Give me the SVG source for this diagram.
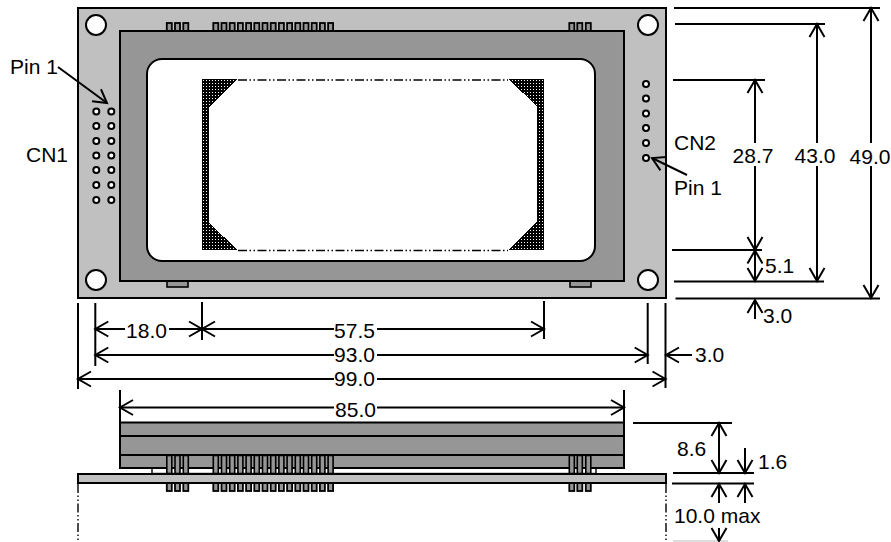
<svg xmlns="http://www.w3.org/2000/svg" width="891" height="542" viewBox="0 0 891 542">
<style>
.o{stroke:#000;stroke-width:2}
.board{fill:#c0c0c0}
.panel{fill:#969696}
.w{fill:#fff}
.l{stroke:#000;stroke-width:2;fill:none}
.a{stroke:#000;stroke-width:2;fill:none;marker-end:url(#ah)}
.h{fill:#fff;stroke:#000;stroke-width:2}
.dd{stroke:#000;stroke-width:1.4;fill:none;stroke-dasharray:9 2.5 1.5 2.5 1.5 2.5}
text{font-family:"Liberation Sans",Arial,sans-serif;font-size:21px;fill:#000}
</style>
<defs>
<marker id="ah" viewBox="-15 -9 18 18" markerWidth="18" markerHeight="18" refX="0" refY="0" orient="auto" markerUnits="userSpaceOnUse"><path d="M-13,-7.500 L0,0 L-13,7.500" fill="none" stroke="#000" stroke-width="2"/></marker>
<pattern id="dots" width="3" height="3" patternUnits="userSpaceOnUse" x="202" y="79"><rect width="3" height="3" fill="#000"/><rect x="1" y="1" width="1" height="1" fill="#fff"/></pattern>
<rect id="tp" width="5" height="8" fill="#969696" stroke="#000" stroke-width="1.8"/>
<rect id="sp" width="5" height="18" fill="#969696" stroke="#000" stroke-width="1.6"/>
<circle id="hole" r="3" class="h"/>
</defs>

<g id="front-board">
<rect x="78" y="8" width="588" height="290" class="board o"/>
<circle cx="96" cy="25" r="10" class="w o"/><circle cx="648" cy="25" r="10" class="w o"/>
<circle cx="96" cy="280" r="10" class="w o"/><circle cx="648" cy="280" r="10" class="w o"/>
</g>
<g id="top-pins">
<use href="#tp" x="166.800" y="23"/><use href="#tp" x="175" y="23"/><use href="#tp" x="183.300" y="23"/>
<use href="#tp" x="213.300" y="23"/><use href="#tp" x="221.500" y="23"/><use href="#tp" x="229.700" y="23"/><use href="#tp" x="237.900" y="23"/><use href="#tp" x="246.100" y="23"/><use href="#tp" x="254.300" y="23"/><use href="#tp" x="262.500" y="23"/><use href="#tp" x="270.700" y="23"/><use href="#tp" x="278.900" y="23"/><use href="#tp" x="287.100" y="23"/><use href="#tp" x="295.300" y="23"/><use href="#tp" x="303.500" y="23"/><use href="#tp" x="311.700" y="23"/><use href="#tp" x="319.900" y="23"/><use href="#tp" x="328.100" y="23"/>
<use href="#tp" x="569.300" y="23"/><use href="#tp" x="577.300" y="23"/><use href="#tp" x="585.800" y="23"/>
</g>
<g id="front-panel">
<rect x="167" y="281" width="21" height="6" class="panel" stroke="#000" stroke-width="1.6"/>
<rect x="570" y="281" width="21" height="6" class="panel" stroke="#000" stroke-width="1.6"/>
<rect x="120" y="31" width="504" height="250" class="panel o"/>
<rect x="147" y="59" width="448" height="202" rx="15" class="w o"/>
</g>
<g id="dot-matrix">
<path d="M202,79 L238,79 L209,107 L209,223 L238,250 L202,250Z" fill="url(#dots)" shape-rendering="crispEdges"/>
<path d="M544,79 L508,79 L537,106 L537,222 L508,250 L544,250Z" fill="url(#dots)" shape-rendering="crispEdges"/>
<path d="M238,80 H508 M238,250.500 H508" class="dd"/>
</g>
<g id="cn1">
<use href="#hole" x="96.300" y="111.500"/><use href="#hole" x="111.300" y="111.500"/>
<use href="#hole" x="96.300" y="126"/><use href="#hole" x="111.300" y="126"/>
<use href="#hole" x="96.300" y="141"/><use href="#hole" x="111.300" y="141"/>
<use href="#hole" x="96.300" y="155.500"/><use href="#hole" x="111.300" y="155.500"/>
<use href="#hole" x="96.300" y="170"/><use href="#hole" x="111.300" y="170"/>
<use href="#hole" x="96.300" y="185"/><use href="#hole" x="111.300" y="185"/>
<use href="#hole" x="96.300" y="200"/><use href="#hole" x="111.300" y="200"/>
<text x="26" y="162">CN1</text>
</g>
<g id="cn2">
<use href="#hole" x="646" y="84"/><use href="#hole" x="646" y="98.500"/><use href="#hole" x="646" y="113.500"/><use href="#hole" x="646" y="128"/><use href="#hole" x="646" y="143"/><use href="#hole" x="646" y="158"/>
<text x="674" y="150">CN2</text>
</g>
<g id="side-view">
<rect x="152" y="467.500" width="444" height="6" class="w" stroke="#000" stroke-width="1.4"/>
<rect x="120" y="422.500" width="504" height="45.500" class="panel o"/>
<path d="M120,436 H624 M120,455 H624" class="o"/>
<g>
<use href="#sp" x="166.800" y="455.500"/><use href="#sp" x="175" y="455.500"/><use href="#sp" x="183.300" y="455.500"/>
<use href="#sp" x="213.300" y="455.500"/><use href="#sp" x="221.500" y="455.500"/><use href="#sp" x="229.700" y="455.500"/><use href="#sp" x="237.900" y="455.500"/><use href="#sp" x="246.100" y="455.500"/><use href="#sp" x="254.300" y="455.500"/><use href="#sp" x="262.500" y="455.500"/><use href="#sp" x="270.700" y="455.500"/><use href="#sp" x="278.900" y="455.500"/><use href="#sp" x="287.100" y="455.500"/><use href="#sp" x="295.300" y="455.500"/><use href="#sp" x="303.500" y="455.500"/><use href="#sp" x="311.700" y="455.500"/><use href="#sp" x="319.900" y="455.500"/><use href="#sp" x="328.100" y="455.500"/>
<use href="#sp" x="569.300" y="455.500"/><use href="#sp" x="577.300" y="455.500"/><use href="#sp" x="585.800" y="455.500"/>
</g>
<g>
<use href="#tp" x="166.800" y="483"/><use href="#tp" x="175" y="483"/><use href="#tp" x="183.300" y="483"/>
<use href="#tp" x="213.300" y="483"/><use href="#tp" x="221.500" y="483"/><use href="#tp" x="229.700" y="483"/><use href="#tp" x="237.900" y="483"/><use href="#tp" x="246.100" y="483"/><use href="#tp" x="254.300" y="483"/><use href="#tp" x="262.500" y="483"/><use href="#tp" x="270.700" y="483"/><use href="#tp" x="278.900" y="483"/><use href="#tp" x="287.100" y="483"/><use href="#tp" x="295.300" y="483"/><use href="#tp" x="303.500" y="483"/><use href="#tp" x="311.700" y="483"/><use href="#tp" x="319.900" y="483"/><use href="#tp" x="328.100" y="483"/>
<use href="#tp" x="569.300" y="483"/><use href="#tp" x="577.300" y="483"/><use href="#tp" x="585.800" y="483"/>
</g>
<rect x="78" y="474" width="588" height="9" class="board o"/>
<path d="M78,484 V542 M666,484 V542" class="dd"/>
</g>
<g id="connectors">
<path d="M58,67 L107,103" class="a"/>
<path d="M687,175 L652,158" class="a"/>
<path d="M674,8 H880 M675,24 H825 M673,80 H765 M672,250 H762 M674,281.500 H824 M675.500,298.500 H880" class="l"/>
<path d="M871,143 V8" class="a"/><path d="M871,166 V298" class="a"/>
<path d="M817,143 V24" class="a"/><path d="M817,166 V281" class="a"/>
<path d="M755,143 V80" class="a"/><path d="M755,166 V250" class="a"/>
<path d="M755,281 V250.500" class="a"/><path d="M755,250.500 V281" class="a"/>
<path d="M755,319 V300" class="a"/>
<path d="M78,303 V389 M95.300,303 V366 M202,302 V340 M544,301 V339 M647.700,303 V364 M665.500,303 V388" class="l"/>
<path d="M125,329 H95.300" class="a"/><path d="M169,329 H202" class="a"/>
<path d="M334,329 H202" class="a"/><path d="M377,329 H544" class="a"/>
<path d="M334,355 H95.300" class="a"/><path d="M377,355 H647.700" class="a"/>
<path d="M334,379 H78" class="a"/><path d="M377,379 H665.500" class="a"/>
<path d="M692,355 H666" class="a"/>
<path d="M120,390 V422 M624,390 V422" class="l"/>
<path d="M334,407.500 H120" class="a"/><path d="M377,407.500 H624" class="a"/>
<path d="M633,423 H732 M673,473 H754 M672,483.500 H754" class="l"/>
<path d="M673,541 H728" stroke="#bbb" stroke-width="1.2" fill="none"/>
<path d="M719,474 V423" class="a"/><path d="M719,423 V473" class="a"/>
<path d="M745,448 V473" class="a"/>
<path d="M745,503 V484" class="a"/><path d="M719,503 V484" class="a"/>
<path d="M719,528 V541" class="a"/>
</g>
<g id="labels">
<text x="10" y="74">Pin 1</text>
<text x="674" y="195">Pin 1</text>
<text x="870" y="164" text-anchor="middle">49.0</text>
<text x="815" y="163" text-anchor="middle">43.0</text>
<text x="753" y="163" text-anchor="middle">28.7</text>
<text x="765" y="273">5.1</text>
<text x="763" y="323">3.0</text>
<text x="146.500" y="338" text-anchor="middle">18.0</text>
<text x="354.500" y="338" text-anchor="middle">57.5</text>
<text x="354.500" y="362" text-anchor="middle">93.0</text>
<text x="354.500" y="386" text-anchor="middle">99.0</text>
<text x="695" y="362">3.0</text>
<text x="355.500" y="416.500" text-anchor="middle">85.0</text>
<text x="677" y="456">8.6</text>
<text x="758" y="469">1.6</text>
<text x="674" y="523">10.0 max</text>
</g>
</svg>
